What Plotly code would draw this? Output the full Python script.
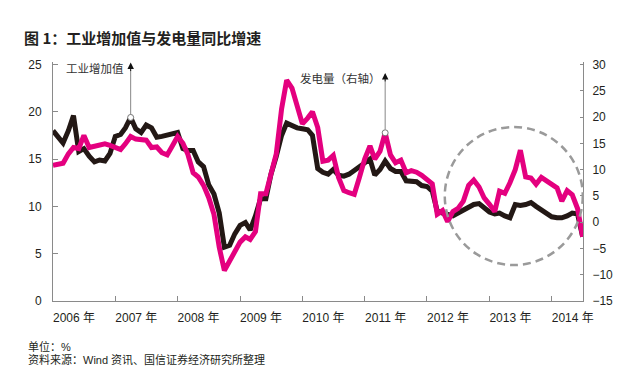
import pandas as pd
import plotly.graph_objects as go

# Monthly observations, Jan 2006 .. Jul 2014
months = [d.strftime("%Y-%m-%d") for d in pd.date_range("2006-01-01", periods=103, freq="MS")]

# Industrial value added YoY (%), left axis
industrial = [
    18.0, 17.3, 16.7, 18.0, 19.6, 15.8, 16.1, 15.3, 14.7, 14.9, 14.8, 15.6,
    17.4, 17.6, 18.3, 19.4, 18.2, 17.8, 18.6, 18.3, 17.3, 17.4, 17.5, 17.7,
    17.8, 16.1, 15.9, 15.9, 14.7, 14.2, 12.3, 11.3, 9.3, 5.7, 5.9, 7.1,
    8.0, 8.3, 7.5, 9.0, 10.8, 10.8, 13.4, 15.3, 17.5, 18.8, 18.5, 18.3,
    18.2, 18.1, 17.5, 14.0, 13.6, 13.4, 13.9, 13.3, 13.2, 13.4, 13.8, 14.2,
    14.6, 15.0, 13.3, 13.9, 14.8, 14.0, 13.7, 13.7, 12.7, 12.7, 12.6, 12.2,
    12.1, 11.6, 9.5, 9.3, 9.1, 9.0, 9.3, 9.6, 9.9, 10.2, 10.3, 9.8,
    9.4, 9.2, 9.3, 9.0, 8.8, 10.2, 10.1, 10.2, 10.4, 10.0, 9.6, 9.2,
    8.9, 8.8, 8.8, 9.0, 9.3, 9.2, 6.8,
]

# Power generation YoY (%), right axis
power = [
    10.8, 10.9, 11.2, 13.0, 14.2, 14.0, 16.5, 14.2, 14.4, 14.6, 14.9, 14.6,
    14.2, 13.8, 14.9, 16.3, 15.8, 15.6, 15.6, 14.2, 14.3, 13.2, 12.8, 14.5,
    16.3, 15.0, 12.9, 9.4, 8.6, 7.0, 4.7, 1.5, -4.8, -9.2, -7.3, -5.3,
    -3.8, -2.8, -3.3, -1.8, 5.4, 5.4, 9.4, 13.0, 21.5, 27.0, 25.5, 22.3,
    18.7, 19.8, 21.0, 18.0, 11.6, 11.8, 12.7, 8.5, 6.0, 5.6, 5.3, 8.5,
    12.0, 14.5, 12.0, 13.5, 17.0, 12.8, 11.3, 11.8, 9.4, 9.8, 9.5, 8.9,
    8.0, 7.3, 1.5, 2.2, 0.1, 2.0, 2.6, 4.0, 7.0, 8.0, 6.7, 4.6,
    3.4, 2.0, 5.9, 5.5, 7.5, 10.0, 13.7, 8.6, 8.4, 7.2, 8.5, 7.8,
    7.0, 6.5, 4.0, 6.0, 5.2, 2.6, -2.8,
]

years = list(range(2006, 2015))
year_ticks = [f"{y}-01-01" for y in years]
year_labels = [f"{y} 年" for y in years]

left_ticks = [0, 5, 10, 15, 20, 25]
right_ticks = [-15, -10, -5, 0, 5, 10, 15, 20, 25, 30]
right_labels = [str(v).replace("-", "\u2212") for v in right_ticks]

BLACK = "#231815"
PINK = "#e4007f"
AXIS = "#8a8a8a"
TXT = "#231f20"
FONT = "Liberation Sans, Arial, Noto Sans CJK SC, sans-serif"
CJK = "Noto Sans CJK SC, Liberation Sans, sans-serif"
LAT_CJK = "Liberation Sans, Noto Sans CJK SC, sans-serif"

fig = go.Figure()
fig.add_trace(go.Scatter(x=months, y=industrial, mode="lines", name="工业增加值",
                         line=dict(color=BLACK, width=5), yaxis="y"))
fig.add_trace(go.Scatter(x=months, y=power, mode="lines", name="发电量",
                         line=dict(color=PINK, width=5), yaxis="y2"))

# marker circles at annotated points
fig.add_trace(go.Scatter(x=[months[15]], y=[industrial[15]], mode="markers", yaxis="y",
                         marker=dict(size=6, color="white", line=dict(color="#777", width=1)),
                         showlegend=False, hoverinfo="skip"))
fig.add_trace(go.Scatter(x=[months[64]], y=[power[64]], mode="markers", yaxis="y2",
                         marker=dict(size=6, color="white", line=dict(color="#777", width=1)),
                         showlegend=False, hoverinfo="skip"))

shapes = [
    # gray leader lines
    dict(type="line", xref="x", yref="y", x0=months[15], x1=months[15],
         y0=industrial[15] + 0.3, y1=24.4, line=dict(color="#888", width=1)),
    dict(type="line", xref="x", yref="y2", x0=months[64], x1=months[64],
         y0=power[64] + 0.6, y1=27.0, line=dict(color="#888", width=1)),
    # dashed highlight circle
    dict(type="circle", xref="paper", yref="paper", x0=0.7392, x1=0.9996, y0=0.1506, y1=0.728,
         line=dict(color="#9a9a9a", width=2.5, dash="8px,5px")),
]

# page offset (browser body margin)
OFF = 8
W, H = 640 - OFF, 392 - OFF
L, R, T, B = 53 - OFF, 57, 62 - OFF, 91
pw, ph = W - L - R, H - T - B

annotations = [
    dict(x=months[15], y=25.2, xref="x", yref="y", ax=0, ay=10, text="",
         showarrow=True, arrowhead=2, arrowsize=1.3, arrowwidth=1, arrowcolor="#111"),
    dict(x=months[64], y=28.4, xref="x", yref="y2", ax=0, ay=10, text="",
         showarrow=True, arrowhead=2, arrowsize=1.3, arrowwidth=1, arrowcolor="#111"),
]

# texts placed by page pixel position
texts = [
    dict(text="工业增加值", x=95, y=68, xanchor="center", size=11.5, color="#333", fam=CJK),
    dict(text="发电量（右轴）", x=340, y=78, xanchor="center", size=11.5, color="#333", fam=CJK),
    dict(text="<b>图 1：工业增加值与发电量同比增速</b>", x=22, y=37, xanchor="left", size=15,
         color=TXT, fam=CJK),
    dict(text="单位：%", x=26, y=346, xanchor="left", size=11, color=TXT, fam=LAT_CJK),
    dict(text="资料来源：Wind 资讯、国信证券经济研究所整理", x=26, y=359.5, xanchor="left",
         size=11, color=TXT, fam=LAT_CJK),
]
for t in texts:
    annotations.append(dict(
        text=t["text"], showarrow=False, xref="paper", yref="paper",
        x=(t["x"] - OFF - L) / pw, y=1 - (t["y"] - OFF - T) / ph,
        xanchor=t["xanchor"], yanchor="middle", align="left",
        font=dict(family=t["fam"], size=t["size"], color=t["color"]),
    ))

fig.update_layout(
    width=W, height=H,
    margin=dict(l=L, r=R, t=T, b=B),
    paper_bgcolor="white", plot_bgcolor="white",
    showlegend=False,
    font=dict(family=FONT, size=12, color=TXT),
    xaxis=dict(
        type="date", range=["2006-01-01", "2014-07-03"],
        tickvals=year_ticks, ticktext=year_labels,
        ticks="inside", ticklen=5, tickcolor=AXIS, tickwidth=1,
        showline=True, linecolor=AXIS, linewidth=1, showgrid=False, zeroline=False,
        ticklabelshift=21, ticklabelstandoff=6,
        tickfont=dict(family=FONT, size=12, color=TXT),
    ),
    yaxis=dict(
        range=[0, 25.26], tickvals=left_ticks,
        ticks="inside", ticklen=5, tickcolor=AXIS,
        showline=True, linecolor=AXIS, linewidth=1, showgrid=False, zeroline=False,
        ticklabelstandoff=8,
        tickfont=dict(family=FONT, size=12, color=TXT),
    ),
    yaxis2=dict(
        range=[-15, 30.47], tickvals=right_ticks, ticktext=right_labels,
        overlaying="y", side="right",
        ticks="inside", ticklen=3, tickcolor=AXIS,
        showline=True, linecolor=AXIS, linewidth=1, showgrid=False, zeroline=False,
        ticklabelstandoff=6,
        tickfont=dict(family=FONT, size=12, color=TXT),
    ),
    shapes=shapes,
    annotations=annotations,
)

fig.write_html("out.html")
